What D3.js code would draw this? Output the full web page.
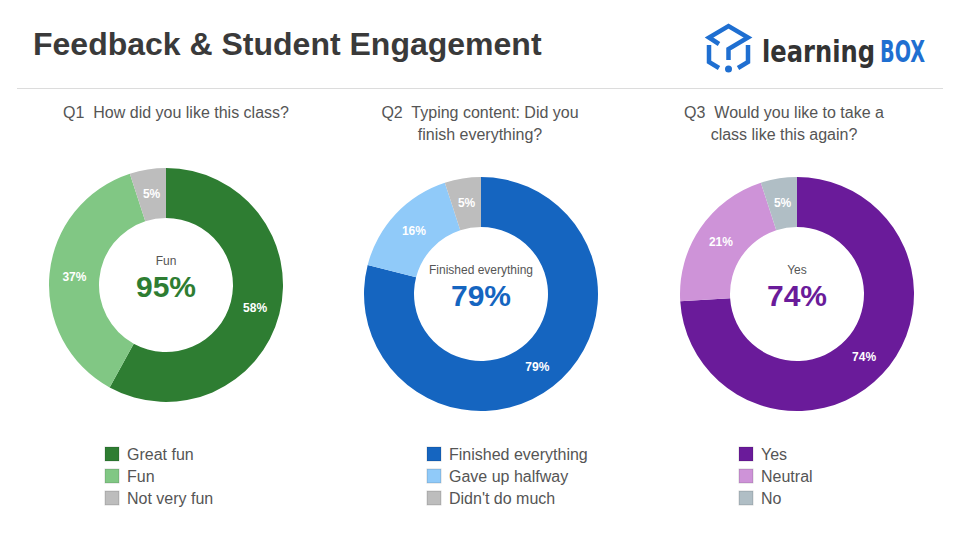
<!DOCTYPE html>
<html>
<head>
<meta charset="utf-8">
<script src="https://cdn.jsdelivr.net/npm/d3@7/dist/d3.min.js"></script>
<style>
  html, body { margin: 0; padding: 0; background: #fff; }
  svg { display: block; }
  svg text { font-family: Arial, "Liberation Sans", Helvetica, sans-serif; white-space: pre; }
</style>
</head>
<body>
<svg id="chart" width="960" height="540"></svg>
<script>
// ---- Data ----
const chartTitle = "Feedback & Student Engagement";
const questionTitles = [
  ["Q1  How did you like this class?"],
  ["Q2  Typing content: Did you", "finish everything?"],
  ["Q3  Would you like to take a", "class like this again?"]
];
const q1Categories = ["Great fun", "Fun", "Not very fun"];
const q1Values = [58, 37, 5];
const q2Categories = ["Finished everything", "Gave up halfway", "Didn't do much"];
const q2Values = [79, 16, 5];
const q3Categories = ["Yes", "Neutral", "No"];
const q3Values = [74, 21, 5];
const centerLabels = ["Fun", "Finished everything", "Yes"];
const centerValues = [95, 79, 74];

// ---- Styles / layout ----
const q1Colors = ["#2e7d32", "#81c784", "#bdbdbd"];
const q2Colors = ["#1565c0", "#90caf9", "#bdbdbd"];
const q3Colors = ["#6a1b9a", "#ce93d8", "#b0bec5"];
const accent = ["#2e7d32", "#1565c0", "#6a1b9a"];

const panels = [
  { cats: q1Categories, vals: q1Values, colors: q1Colors, cx: 166, cy: 285, tx: 176, legendX: 105 },
  { cats: q2Categories, vals: q2Values, colors: q2Colors, cx: 481, cy: 294, tx: 480, legendX: 427 },
  { cats: q3Categories, vals: q3Values, colors: q3Colors, cx: 797, cy: 294, tx: 784, legendX: 739 }
];

const FONT = "Arial, 'Liberation Sans', Helvetica, sans-serif";
const outerR = 117, innerR = 67;
const svg = d3.select("#chart");

// Title
svg.append("text")
  .attr("x", 33).attr("y", 55)
  .attr("font-family", FONT)
  .attr("font-size", 32).attr("font-weight", "bold")
  .attr("fill", "#3a3a3a")
  .text(chartTitle);

// Separator
svg.append("line")
  .attr("x1", 17).attr("x2", 943).attr("y1", 88.5).attr("y2", 88.5)
  .attr("stroke", "#dcdcdc").attr("stroke-width", 1);

// Logo
const logo = svg.append("g").attr("fill", "none").attr("stroke", "#1f6fd1")
  .attr("stroke-width", 4.5).attr("stroke-linejoin", "miter").attr("stroke-linecap", "butt");
logo.append("path").attr("d", "M719,44 L709,37.5 L728.5,26 L748,37.5 L728.5,49 L728.5,60");
logo.append("path").attr("d", "M709,45 L709,62 L719,68");
logo.append("path").attr("d", "M748,45 L748,62 L738,68");
svg.append("circle").attr("cx", 728.5).attr("cy", 69).attr("r", 3.5).attr("fill", "#1f6fd1");
const logoFont = "'DejaVu Sans Condensed', 'DejaVu Sans', sans-serif";
svg.append("text").attr("transform", "translate(762,62) scale(1,1.25)")
  .style("font-family", logoFont)
  .attr("font-weight", "bold").attr("font-size", 24).attr("fill", "#333")
  .attr("textLength", 113).attr("lengthAdjust", "spacingAndGlyphs")
  .text("learning");
svg.append("text").attr("transform", "translate(880,62) scale(1,1.25)")
  .style("font-family", logoFont)
  .attr("font-weight", "bold").attr("font-size", 24).attr("fill", "#1f6fd1")
  .attr("textLength", 45).attr("lengthAdjust", "spacingAndGlyphs")
  .text("BOX");

const pie = d3.pie().sort(null).value(d => d);
const arc = d3.arc().innerRadius(innerR).outerRadius(outerR);
const labelArc = d3.arc().innerRadius((innerR + outerR) / 2).outerRadius((innerR + outerR) / 2);

panels.forEach((p, i) => {
  // Question title
  const t = svg.append("text").attr("text-anchor", "middle")
    .attr("font-family", FONT)
    .attr("font-size", 16).attr("fill", "#555");
  questionTitles[i].forEach((line, j) => {
    t.append("tspan").attr("x", p.tx).attr("y", 118 + j * 22).text(line);
  });

  const color = d3.scaleOrdinal().domain(p.cats).range(p.colors);
  const g = svg.append("g").attr("transform", `translate(${p.cx},${p.cy})`);
  const arcs = pie(p.vals);
  g.selectAll("path").data(arcs).join("path")
    .attr("d", arc)
    .attr("fill", (d, k) => color(p.cats[k]));
  g.selectAll("text.sl").data(arcs).join("text")
    .attr("class", "sl")
    .attr("transform", d => `translate(${labelArc.centroid(d)})`)
    .attr("text-anchor", "middle").attr("dy", "0.35em")
    .attr("font-family", FONT)
    .attr("font-size", 12).attr("font-weight", "bold").attr("fill", "#fff")
    .text(d => d.data + "%");

  // Center labels
  g.append("text").attr("text-anchor", "middle").attr("y", -20)
    .attr("font-family", FONT)
    .attr("font-size", 12).attr("fill", "#555").text(centerLabels[i]);
  g.append("text").attr("text-anchor", "middle").attr("y", 12)
    .attr("font-family", FONT)
    .attr("font-size", 30).attr("font-weight", "bold").attr("fill", accent[i])
    .text(centerValues[i] + "%");

  // Legend
  const lg = svg.append("g").attr("transform", `translate(${p.legendX},447)`);
  const rows = lg.selectAll("g").data(p.cats).join("g")
    .attr("transform", (d, k) => `translate(0,${k * 22})`);
  rows.append("rect").attr("width", 14).attr("height", 14)
    .attr("fill", d => color(d)).attr("stroke", "rgba(0,0,0,0.15)").attr("stroke-width", 1);
  rows.append("text").attr("x", 22).attr("y", 13)
    .attr("font-family", FONT)
    .attr("font-size", 16).attr("fill", "#555").text(d => d);
});
</script>
</body>
</html>
